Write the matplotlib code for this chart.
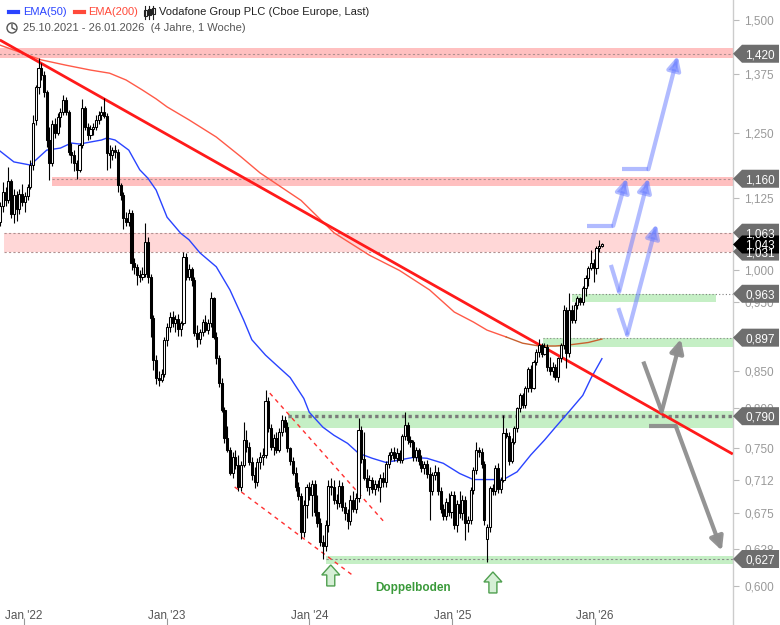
import numpy as np
import pandas as pd
import matplotlib
matplotlib.use('Agg')
import matplotlib.pyplot as plt
import matplotlib.dates as mdates
import matplotlib.transforms as mtrans
from matplotlib.patches import Polygon, Rectangle, Ellipse
from matplotlib.lines import Line2D

plt.rcParams['font.family'] = ['Liberation Sans', 'DejaVu Sans']

# weekly candles (Vodafone Group PLC, Cboe Europe), first week 25.10.2021
first_week = '2021-10-25'
opens = [
    1.112, 1.082, 1.110, 1.135, 1.120, 1.155, 1.095, 1.130, 1.105, 1.132,
    1.118, 1.128, 1.145, 1.186, 1.275, 1.345, 1.387, 1.372, 1.335, 1.235,
    1.190, 1.268, 1.250, 1.282, 1.292, 1.318, 1.292, 1.212, 1.205, 1.190,
    1.177, 1.225, 1.300, 1.262, 1.245, 1.258, 1.262, 1.275, 1.286, 1.292,
    1.284, 1.209, 1.205, 1.215, 1.212, 1.148, 1.130, 1.088, 1.082, 1.098,
    1.012, 1.005, 0.993, 0.990, 0.995, 1.047, 0.990, 0.926, 0.865, 0.840,
    0.838, 0.846, 0.894, 0.912, 0.928, 0.918, 0.925, 0.910, 0.918, 1.022,
    0.990, 1.002, 0.985, 0.904, 0.895, 0.905, 0.920, 0.908, 0.918, 0.956,
    0.898, 0.868, 0.833, 0.798, 0.762, 0.748, 0.721, 0.740, 0.730, 0.705,
    0.730, 0.760, 0.752, 0.734, 0.718, 0.710, 0.733, 0.739, 0.742, 0.810,
    0.775, 0.752, 0.762, 0.748, 0.770, 0.785, 0.776, 0.750, 0.735, 0.721,
    0.705, 0.694, 0.655, 0.684, 0.705, 0.695, 0.708, 0.676, 0.665, 0.645,
    0.640, 0.662, 0.706, 0.704, 0.690, 0.686, 0.706, 0.682, 0.675, 0.667,
    0.690, 0.680, 0.692, 0.773, 0.737, 0.715, 0.705, 0.712, 0.702, 0.708,
    0.704, 0.715, 0.710, 0.731, 0.742, 0.746, 0.738, 0.744, 0.736, 0.765,
    0.779, 0.760, 0.758, 0.739, 0.748, 0.735, 0.726, 0.731, 0.720, 0.700,
    0.718, 0.722, 0.700, 0.680, 0.672, 0.688, 0.676, 0.695, 0.662, 0.685,
    0.675, 0.690, 0.665, 0.668, 0.701, 0.724, 0.748, 0.746, 0.731, 0.648,
    0.660, 0.703, 0.700, 0.727, 0.702, 0.713, 0.769, 0.765, 0.735, 0.758,
    0.775, 0.800, 0.817, 0.804, 0.827, 0.853, 0.827, 0.862, 0.876, 0.886,
    0.874, 0.884, 0.856, 0.850, 0.856, 0.842, 0.868, 0.886, 0.938, 0.875,
    0.938, 0.923, 0.946, 0.956, 0.950, 0.972, 0.988, 1.004, 1.012, 1.004,
    1.037, 1.041,
]
highs = [
    1.120, 1.118, 1.154, 1.145, 1.182, 1.160, 1.140, 1.138, 1.140, 1.150,
    1.135, 1.150, 1.195, 1.286, 1.350, 1.410, 1.400, 1.380, 1.340, 1.262,
    1.275, 1.280, 1.290, 1.300, 1.328, 1.325, 1.296, 1.230, 1.215, 1.195,
    1.230, 1.320, 1.305, 1.270, 1.265, 1.270, 1.285, 1.295, 1.305, 1.322,
    1.290, 1.225, 1.222, 1.225, 1.218, 1.152, 1.135, 1.100, 1.105, 1.102,
    1.020, 1.010, 1.000, 1.005, 1.080, 1.055, 0.995, 0.930, 0.872, 0.850,
    0.852, 0.898, 0.918, 0.935, 0.936, 0.930, 0.932, 0.922, 1.030, 1.029,
    1.010, 1.005, 0.990, 0.915, 0.910, 0.925, 0.930, 0.925, 0.966, 0.958,
    0.905, 0.872, 0.841, 0.802, 0.778, 0.752, 0.745, 0.748, 0.742, 0.735,
    0.783, 0.772, 0.758, 0.740, 0.728, 0.738, 0.745, 0.750, 0.824, 0.815,
    0.780, 0.768, 0.770, 0.775, 0.792, 0.790, 0.782, 0.752, 0.740, 0.728,
    0.710, 0.698, 0.690, 0.708, 0.710, 0.712, 0.712, 0.695, 0.670, 0.652,
    0.668, 0.712, 0.715, 0.712, 0.697, 0.712, 0.710, 0.688, 0.680, 0.695,
    0.700, 0.698, 0.788, 0.778, 0.770, 0.725, 0.718, 0.716, 0.712, 0.712,
    0.720, 0.722, 0.735, 0.746, 0.750, 0.752, 0.750, 0.748, 0.768, 0.795,
    0.782, 0.765, 0.760, 0.752, 0.750, 0.742, 0.735, 0.736, 0.728, 0.722,
    0.730, 0.728, 0.705, 0.685, 0.692, 0.698, 0.700, 0.700, 0.690, 0.700,
    0.695, 0.694, 0.672, 0.705, 0.728, 0.758, 0.752, 0.750, 0.735, 0.664,
    0.706, 0.708, 0.730, 0.732, 0.716, 0.791, 0.775, 0.770, 0.762, 0.778,
    0.802, 0.820, 0.820, 0.830, 0.856, 0.858, 0.865, 0.880, 0.895, 0.890,
    0.890, 0.888, 0.870, 0.862, 0.860, 0.870, 0.890, 0.945, 0.942, 0.964,
    0.945, 0.950, 0.960, 0.958, 0.975, 0.992, 1.008, 1.033, 1.018, 1.040,
    1.050, 1.046,
]
lows = [
    1.064, 1.075, 1.100, 1.110, 1.115, 1.088, 1.080, 1.083, 1.095, 1.110,
    1.100, 1.120, 1.140, 1.176, 1.265, 1.330, 1.360, 1.325, 1.222, 1.158,
    1.185, 1.240, 1.245, 1.262, 1.285, 1.285, 1.205, 1.190, 1.175, 1.160,
    1.172, 1.220, 1.255, 1.235, 1.238, 1.245, 1.255, 1.268, 1.275, 1.280,
    1.177, 1.180, 1.195, 1.200, 1.135, 1.120, 1.070, 1.075, 1.075, 1.000,
    0.995, 0.977, 0.982, 0.985, 0.990, 0.980, 0.898, 0.851, 0.832, 0.830,
    0.835, 0.842, 0.885, 0.905, 0.912, 0.905, 0.900, 0.900, 0.915, 0.985,
    0.985, 0.975, 0.900, 0.883, 0.888, 0.900, 0.905, 0.902, 0.912, 0.895,
    0.860, 0.828, 0.795, 0.756, 0.745, 0.718, 0.715, 0.725, 0.700, 0.700,
    0.728, 0.745, 0.730, 0.712, 0.703, 0.706, 0.725, 0.730, 0.738, 0.770,
    0.748, 0.742, 0.744, 0.745, 0.765, 0.770, 0.745, 0.730, 0.718, 0.700,
    0.690, 0.648, 0.650, 0.670, 0.690, 0.672, 0.672, 0.660, 0.640, 0.627,
    0.635, 0.655, 0.695, 0.685, 0.680, 0.682, 0.678, 0.668, 0.658, 0.662,
    0.676, 0.675, 0.688, 0.732, 0.712, 0.700, 0.695, 0.698, 0.695, 0.700,
    0.688, 0.705, 0.705, 0.726, 0.736, 0.735, 0.733, 0.732, 0.732, 0.760,
    0.755, 0.752, 0.735, 0.735, 0.730, 0.722, 0.720, 0.715, 0.668, 0.695,
    0.712, 0.695, 0.675, 0.668, 0.668, 0.672, 0.670, 0.658, 0.655, 0.670,
    0.668, 0.647, 0.655, 0.664, 0.696, 0.720, 0.740, 0.726, 0.662, 0.624,
    0.655, 0.695, 0.695, 0.698, 0.698, 0.710, 0.762, 0.730, 0.732, 0.755,
    0.770, 0.795, 0.800, 0.800, 0.822, 0.822, 0.825, 0.858, 0.870, 0.870,
    0.872, 0.850, 0.845, 0.842, 0.838, 0.835, 0.862, 0.880, 0.854, 0.870,
    0.918, 0.918, 0.940, 0.945, 0.946, 0.960, 0.975, 1.000, 0.982, 0.995,
    1.030, 1.038,
]
closes = [
    1.082, 1.110, 1.135, 1.120, 1.155, 1.095, 1.130, 1.105, 1.132, 1.118,
    1.128, 1.145, 1.186, 1.270, 1.345, 1.387, 1.372, 1.335, 1.235, 1.190,
    1.268, 1.250, 1.282, 1.292, 1.318, 1.292, 1.212, 1.205, 1.190, 1.177,
    1.225, 1.300, 1.262, 1.245, 1.258, 1.262, 1.275, 1.286, 1.292, 1.284,
    1.209, 1.205, 1.215, 1.212, 1.148, 1.130, 1.088, 1.082, 1.098, 1.012,
    1.005, 0.993, 0.990, 0.995, 1.047, 0.990, 0.926, 0.865, 0.840, 0.838,
    0.846, 0.894, 0.912, 0.928, 0.918, 0.925, 0.910, 0.918, 1.022, 0.990,
    1.002, 0.985, 0.904, 0.895, 0.905, 0.920, 0.908, 0.918, 0.956, 0.898,
    0.868, 0.833, 0.798, 0.762, 0.748, 0.721, 0.740, 0.730, 0.705, 0.730,
    0.760, 0.752, 0.734, 0.718, 0.710, 0.733, 0.739, 0.742, 0.810, 0.775,
    0.752, 0.762, 0.748, 0.770, 0.785, 0.776, 0.750, 0.735, 0.721, 0.705,
    0.694, 0.655, 0.684, 0.705, 0.695, 0.708, 0.676, 0.665, 0.645, 0.640,
    0.662, 0.706, 0.704, 0.690, 0.686, 0.706, 0.682, 0.675, 0.667, 0.690,
    0.680, 0.692, 0.773, 0.737, 0.715, 0.705, 0.712, 0.702, 0.708, 0.704,
    0.715, 0.710, 0.731, 0.742, 0.746, 0.738, 0.744, 0.736, 0.765, 0.779,
    0.760, 0.758, 0.739, 0.748, 0.735, 0.726, 0.731, 0.720, 0.700, 0.718,
    0.722, 0.700, 0.680, 0.672, 0.688, 0.676, 0.695, 0.662, 0.685, 0.675,
    0.690, 0.665, 0.668, 0.701, 0.724, 0.748, 0.746, 0.731, 0.668, 0.660,
    0.703, 0.700, 0.727, 0.702, 0.713, 0.769, 0.765, 0.735, 0.758, 0.775,
    0.800, 0.817, 0.804, 0.827, 0.853, 0.827, 0.862, 0.876, 0.886, 0.874,
    0.884, 0.856, 0.850, 0.856, 0.842, 0.868, 0.886, 0.938, 0.875, 0.938,
    0.923, 0.946, 0.956, 0.950, 0.972, 0.988, 1.004, 1.012, 1.004, 1.037,
    1.041, 1.043,
]
last_price = 1.043

# moving averages (week index from first_week, value)
ema50_weeks = [0, 6, 12, 18, 23, 27, 30, 34, 38, 40, 43, 48, 52, 55, 58, 62, 67, 70, 74, 80,
               85, 90, 93, 98, 102, 107, 112, 114, 119, 123, 128, 132, 137, 142, 147, 152, 157,
               163, 169, 174, 179, 185, 190, 195, 200, 204, 209, 214, 217, 221]
ema50_values = [1.217, 1.192, 1.186, 1.215, 1.219, 1.229, 1.227, 1.231, 1.235, 1.239,
                1.235, 1.215, 1.177, 1.161, 1.139, 1.090, 1.062, 1.051, 1.029, 1.006,
                0.969, 0.923, 0.894, 0.872, 0.858, 0.841, 0.813, 0.795, 0.776, 0.766,
                0.756, 0.744, 0.738, 0.733, 0.736, 0.739, 0.738, 0.732, 0.720, 0.713,
                0.713, 0.713, 0.722, 0.742, 0.760, 0.776, 0.796, 0.817, 0.840, 0.867]
ema200_weeks = [0, 16, 25, 34, 41, 47, 53, 58, 62, 70, 80, 89, 96, 111, 123, 136, 147, 158,
                167, 174, 179, 186, 192, 198, 204, 210, 216, 221]
ema200_values = [1.442, 1.406, 1.394, 1.383, 1.376, 1.361, 1.339, 1.320, 1.303, 1.276,
                 1.241, 1.202, 1.171, 1.120, 1.063, 1.025, 1.000, 0.969, 0.935, 0.920,
                 0.908, 0.898, 0.889, 0.885, 0.885, 0.887, 0.890, 0.895]

# drawn trend lines
trend_dates = ['2021-10-31', '2026-12-20']
trend_prices = [1.452, 0.743]
channel_top_dates = ['2023-09-22', '2024-07-08']
channel_top_prices = [0.820, 0.667]
channel_bottom_dates = ['2023-06-24', '2024-04-20']
channel_bottom_prices = [0.7045, 0.611]

# resistance (red) and support (green) zones
red_zone_starts = ['2021-10-20', '2022-03-13', '2021-11-11']
red_zone_lows = [1.410, 1.147, 1.031]
red_zone_highs = [1.433, 1.163, 1.063]
green_zone_starts = ['2025-11-03', '2025-08-21', '2023-11-07', '2024-02-13']
green_zone_ends = ['2026-11-07', '2026-12-31', '2026-12-31', '2026-12-31']
green_zone_lows = [0.950, 0.884, 0.775, 0.622]
green_zone_highs = [0.963, 0.897, 0.797, 0.630]

level_values = [1.420, 1.160, 1.063, 1.031, 0.963, 0.897, 0.790, 0.627]
level_labels = ['1,420', '1,160', '1,063', '1,031', '0,963', '0,897', '0,790', '0,627']

# scenario arrows (dates, prices of the polyline points; last point = arrow tip)
blue_arrow_dates = [['2025-12-11', '2026-02-17', '2026-03-23'],
                    ['2026-03-11', '2026-05-18', '2026-08-01'],
                    ['2026-02-11', '2026-03-04', '2026-05-18'],
                    ['2026-03-02', '2026-03-25', '2026-06-08']]
blue_arrow_prices = [[1.075, 1.075, 1.161],
                     [1.178, 1.178, 1.415],
                     [1.009, 0.966, 1.161],
                     [0.941, 0.901, 1.078]]
gray_arrow_dates = [['2026-05-05', '2026-06-21', '2026-08-09'],
                    ['2026-05-19', '2026-07-27', '2026-11-22']]
gray_arrow_prices = [[0.863, 0.796, 0.895],
                     [0.7776, 0.7776, 0.6355]]

double_bottom_dates = ['2024-02-25', '2025-04-15']
double_bottom_prices = [0.621, 0.614]

year_ticks = ['2022-01-01', '2023-01-01', '2024-01-01', '2025-01-01', '2026-01-01']
year_labels = ["Jan '22", "Jan '23", "Jan '24", "Jan '25", "Jan '26"]
price_ticks = [0.600, 0.6375, 0.675, 0.7125, 0.750, 0.800, 0.850, 0.900, 0.950, 1.000,
               1.125, 1.250, 1.375, 1.500]
price_tick_labels = ['0,600', '0,638', '0,675', '0,712', '0,750', '0,800', '0,850', '0,900',
                     '0,950', '1,000', '1,125', '1,250', '1,375', '1,500']

# ---------------------------------------------------------------------------
fig = plt.figure(figsize=(7.8, 6.25), dpi=100)
ax = fig.add_axes([0, 0, 733 / 780, 1])
ax.set_yscale('log')

d = mdates.datestr2num
start_num = d(first_week)
xs = start_num + 7 * np.arange(len(closes))
o = np.array(opens)
h = np.array(highs)
l = np.array(lows)
c = np.array(closes)
x_right = d('2026-12-20 12:00')

# zones
for s, lo, hi, col in zip(red_zone_starts, red_zone_lows, red_zone_highs,
                          ['#ffc0c0', '#ffc0c0', '#ffd7d7']):
    ax.fill_between([d(s), x_right], lo, hi, color=col, lw=0, zorder=1)
for s, e, lo, hi in zip(green_zone_starts, green_zone_ends, green_zone_lows, green_zone_highs):
    ax.fill_between([d(s), d(e)], lo, hi, color='#c5efc5', lw=0, zorder=1)

dash = (0, (2, 2))
ax.hlines(level_values[0], d(red_zone_starts[0]), x_right, colors='#b09090', lw=0.8, linestyles=dash, zorder=2)
ax.hlines(level_values[1], d(red_zone_starts[1]), x_right, colors='#b09090', lw=0.8, linestyles=dash, zorder=2)
ax.hlines(level_values[2], d(red_zone_starts[2]), x_right, colors='#b09090', lw=0.8, linestyles=dash, zorder=2)
ax.hlines(level_values[3], d(red_zone_starts[2]), x_right, colors='#b09090', lw=0.8, linestyles=dash, zorder=2)
ax.hlines(level_values[4], d(green_zone_starts[0]), x_right, colors='#808080', lw=0.8, linestyles=(0, (1, 2)), zorder=2)
ax.hlines(level_values[5], d(green_zone_starts[1]), x_right, colors='#8a8a8a', lw=0.8, linestyles=(0, (1, 2)), zorder=2)
ax.hlines(level_values[6], d(green_zone_starts[2]), x_right, colors='#7a7a7a', lw=2.4, linestyles=(0, (1, 1)), zorder=2)
ax.hlines(level_values[7], d(green_zone_starts[3]), x_right, colors='#8a8a8a', lw=0.8, linestyles=dash, zorder=2)

# moving averages
ax.plot(start_num + 7 * np.array(ema50_weeks), ema50_values, color='#2a44ff', lw=1.0, zorder=3)
w200 = np.array(ema200_weeks)
v200 = np.array(ema200_values)
cut = np.searchsorted(w200, 186)
ax.plot(start_num + 7 * w200[:cut + 1], v200[:cut + 1], color='#ff5a48', lw=1.0, zorder=3)
ax.plot(start_num + 7 * w200[cut:], v200[cut:], color='#c8602e', lw=1.0, zorder=3)

# trend lines
ax.plot(d(trend_dates), trend_prices, color='#ff1a1a', lw=2.0, zorder=3.5, solid_capstyle='butt')
ax.plot(d(channel_top_dates), channel_top_prices, color='#ff3030', lw=1.0, ls=(0, (3, 3)), zorder=3.5)
ax.plot(d(channel_bottom_dates), channel_bottom_prices, color='#ff3030', lw=1.0, ls=(0, (3, 3)), zorder=3.5)

# candles
ax.vlines(xs, l, h, color='black', lw=0.8, zorder=4)
lo_body = np.minimum(o, c)
hi_body = np.maximum(o, c)
faces = np.where(c >= o, 'white', 'black')
ax.bar(xs, hi_body - lo_body, bottom=lo_body, width=5.4, color=faces,
       edgecolor='black', linewidth=0.75, zorder=5)

# scenario arrows
def draw_arrow(dates, prices, color, alpha):
    xd = d(dates)
    ax.plot(xd[:-1], prices[:-1], color=color, lw=3, alpha=alpha, zorder=6,
            solid_capstyle='butt')
    ax.annotate('', xy=(xd[-1], prices[-1]), xytext=(xd[-2], prices[-2]),
                arrowprops=dict(arrowstyle='-|>', color=color, lw=3, alpha=alpha,
                                mutation_scale=20, shrinkA=0, shrinkB=0),
                zorder=6, annotation_clip=False)

for ds, ps in zip(blue_arrow_dates, blue_arrow_prices):
    draw_arrow(ds, ps, '#6a7eff', 0.52)
for ds, ps in zip(gray_arrow_dates, gray_arrow_prices):
    draw_arrow(ds, ps, '#8e8e8e', 0.95)

# double bottom markers
for ds, p in zip(double_bottom_dates, double_bottom_prices):
    tr = fig.dpi_scale_trans + mtrans.ScaledTranslation(d(ds), p, ax.transData)
    shape = np.array([[0, 0], [-9, -10], [-4, -10], [-4, -21], [4, -21], [4, -10], [9, -10]]) / 100
    ax.add_patch(Polygon(shape, closed=True, transform=tr, facecolor='#d6efd6',
                         edgecolor='#4f9f4f', lw=1.0, zorder=7, clip_on=False))
ax.text(d('2024-09-23'), 0.598, 'Doppelboden', ha='center', va='center',
        color='#3a9a3a', fontsize=8.5, fontweight='bold', zorder=7)

# axes styling
for side in ['left', 'top', 'bottom']:
    ax.spines[side].set_visible(False)
ax.spines['right'].set_color('#cccccc')
ax.spines['right'].set_linewidth(1)

ax.yaxis.tick_right()
ax.yaxis.set_minor_locator(plt.NullLocator())
ax.yaxis.set_minor_formatter(plt.NullFormatter())
ax.set_yticks(price_ticks)
ax.set_yticklabels(price_tick_labels)
ax.tick_params(axis='y', direction='out', length=4, width=0.8, color='#bbbbbb',
               labelcolor='#999999', labelsize=8.5, pad=4)
ax.set_xticks(d(year_ticks))
ax.set_xticklabels(year_labels)
ax.tick_params(axis='x', direction='in', length=5, width=0.8, color='#999999',
               labelcolor='#555555', labelsize=8.5, pad=-10.5)

# price tags on the right axis
def price_tag(price, text, face):
    tr = fig.dpi_scale_trans + mtrans.ScaledTranslation(1.0, price, ax.get_yaxis_transform())
    verts = np.array([[0, 0], [9, 9], [46, 9], [46, -9], [9, -9]]) / 100
    ax.add_patch(Polygon(verts, closed=True, transform=tr, facecolor=face,
                         edgecolor='none', clip_on=False, zorder=20))
    ax.text(0.27, 0, text, transform=tr, ha='center', va='center_baseline', color='white',
            fontsize=8.5, zorder=21, clip_on=False)

for v, t in zip(level_values, level_labels):
    price_tag(v, t, '#6e6e6e')
price_tag(last_price, f'{last_price:.3f}'.replace('.', ','), '#000000')

ax.set_xlim(d('2021-10-31 10:00'), x_right)
ax.set_ylim(0.5635, 1.549)

# header
def fp(x, y):
    return x / 780, 1 - y / 625

fig.add_artist(Line2D([9 / 780, 18 / 780], [fp(0, 12)[1]] * 2, color='#2a44ff', lw=3))
fig.text(*fp(23, 12), 'EMA(50)', color='#2a44ff', fontsize=8, va='center')
fig.add_artist(Line2D([75 / 780, 84 / 780], [fp(0, 12)[1]] * 2, color='#ff4a3a', lw=3))
fig.text(*fp(88, 12), 'EMA(200)', color='#ff4a3a', fontsize=8, va='center')
for k, filled in enumerate([False, True, False]):
    cx = 145 + 4 * k
    fig.add_artist(Line2D([cx / 780] * 2, [fp(0, 6)[1], fp(0, 19)[1]], color='#222222', lw=0.8))
    fig.add_artist(Rectangle(fp(cx - 1.5, 16 - k), 3 / 780, 6 / 625,
                             facecolor='#222222' if filled else 'white',
                             edgecolor='#222222', lw=0.8, transform=fig.transFigure))
fig.text(*fp(159, 12), 'Vodafone Group PLC (Cboe Europe, Last)', color='#222222',
         fontsize=8, va='center')
fig.add_artist(Ellipse(fp(12, 28), 10 / 780, 10 / 625, facecolor='none',
                       edgecolor='#555555', lw=1.0, transform=fig.transFigure))
fig.add_artist(Line2D([12 / 780, 12 / 780, 15 / 780], [fp(0, 24.5)[1], fp(0, 28)[1], fp(0, 29.5)[1]],
                      color='#555555', lw=1.0))
fig.text(*fp(23, 28), '25.10.2021 - 26.01.2026  (4 Jahre, 1 Woche)', color='#555555',
         fontsize=8, va='center')

fig.savefig('out.png', dpi=100, facecolor='white')
